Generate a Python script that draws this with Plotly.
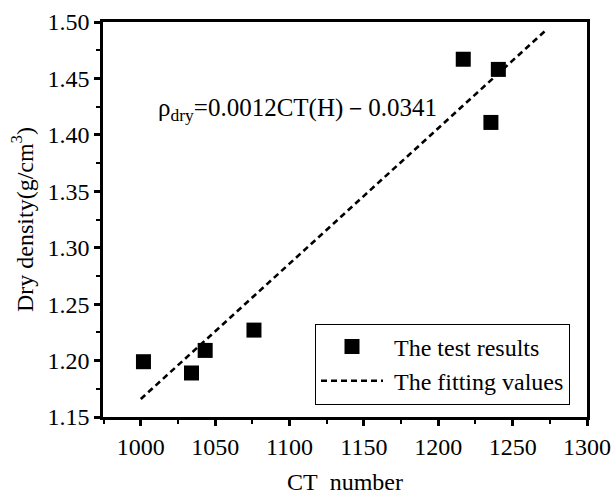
import plotly.graph_objects as go

# Measured samples: CT number vs. dry density
ct_number = [1001.8, 1034.1, 1043.3, 1076.1, 1216.8, 1240.4, 1235.4]
dry_density = [1.199, 1.189, 1.209, 1.227, 1.467, 1.458, 1.411]

# Linear fit: rho_dry = slope * CT(H) + intercept
fit_slope = 0.0012
fit_intercept = -0.0341
fit_ct = [1000, 1273]
fit_density = [fit_slope * c + fit_intercept for c in fit_ct]

x_ticks = [1000, 1050, 1100, 1150, 1200, 1250, 1300]
y_ticks = [1.15, 1.20, 1.25, 1.30, 1.35, 1.40, 1.45, 1.50]

FONT = "Liberation Serif"
FS = 24

fig = go.Figure()
fig.add_trace(go.Scatter(
    x=ct_number, y=dry_density, mode="markers",
    name="\u00a0The test results",
    marker=dict(symbol="square", size=15, color="black"),
))
fig.add_trace(go.Scatter(
    x=fit_ct, y=fit_density, mode="lines",
    name="\u00a0The fitting values",
    line=dict(color="black", width=2.6, dash="6px,4px"),
))

# Plot-area geometry in pixels (used to place the equation label)
W, H = 613, 498
ML, MR, MT, MB = 103, 26, 22, 81
plot_w = W - ML - MR
plot_h = H - MT - MB

fig.add_annotation(
    x=(156 - ML) / plot_w, y=(H - MB - 110) / plot_h,
    xref="paper", yref="paper", showarrow=False,
    text="ρ<sub>dry</sub>=0.0012CT(H)－0.0341",
    font=dict(family=FONT, size=25, color="black"),
    xanchor="left", yanchor="middle",
)

axis_common = dict(
    showgrid=False, zeroline=False, automargin=False,
    showline=True, linecolor="black", linewidth=2.5, mirror=True,
    ticks="outside", ticklen=6, tickwidth=2.5, tickcolor="black",
    tickfont=dict(family=FONT, size=FS, color="black"),
    minor=dict(ticks="outside", ticklen=4, tickwidth=2, tickcolor="black"),
)

fig.update_xaxes(
    range=[974.6, 1300], tickvals=x_ticks,
    ticktext=[str(v) for v in x_ticks],
    minor_dtick=25, minor_tick0=1000,
    title=dict(text="CT\u00a0\u00a0number", font=dict(family=FONT, size=FS, color="black"), standoff=15),
    **axis_common,
)
fig.update_yaxes(
    range=[1.15, 1.50], tickvals=y_ticks,
    ticktext=[f"{v:.2f}" for v in y_ticks],
    minor_dtick=0.025, minor_tick0=1.15,
    title=dict(text="Dry density(g/cm<sup>3</sup>)", font=dict(family=FONT, size=FS, color="black"), standoff=8),
    **axis_common,
)

fig.update_layout(
    width=W, height=H,
    margin=dict(l=ML, r=MR, t=MT, b=MB),
    plot_bgcolor="white", paper_bgcolor="white",
    font=dict(family=FONT, size=FS, color="black"),
    showlegend=True,
    legend=dict(
        x=(315 - ML) / plot_w, y=(H - MB - 364) / plot_h,
        xanchor="left", yanchor="middle",
        bordercolor="black", borderwidth=1, bgcolor="white",
        font=dict(family=FONT, size=FS, color="black"),
        itemwidth=62, tracegroupgap=0,
    ),
)

fig.write_html("out.html")
